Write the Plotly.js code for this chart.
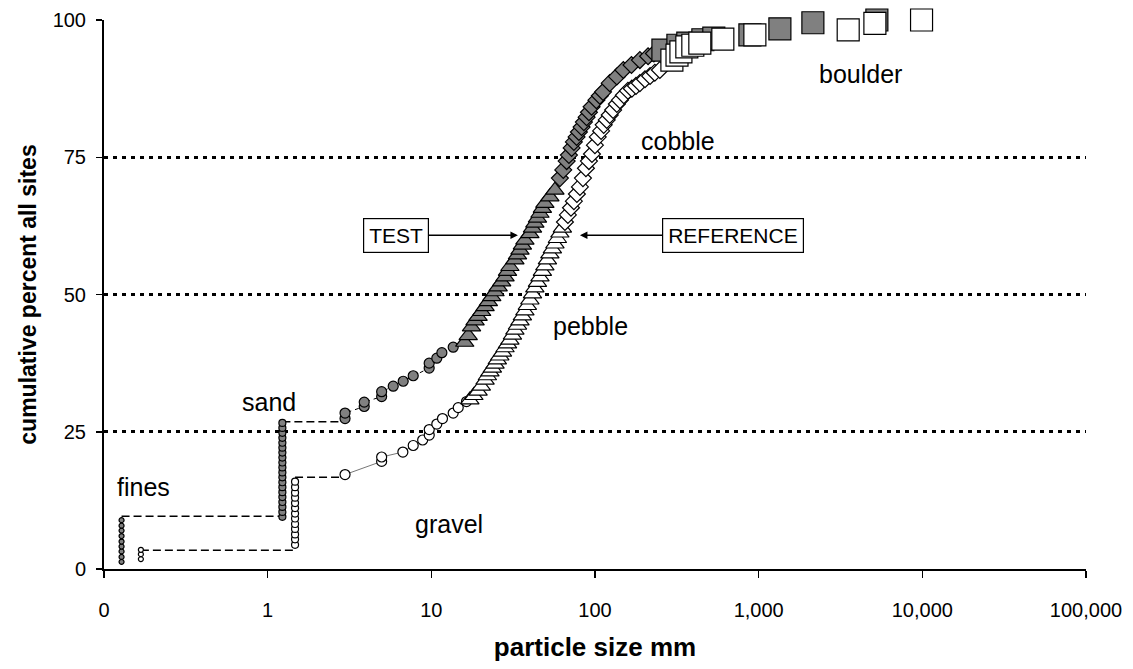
<!DOCTYPE html>
<html>
<head>
<meta charset="utf-8">
<script src="https://cdn.plot.ly/plotly-3.0.1.min.js"></script>
<style>html,body{margin:0;padding:0;background:#fff;}#chart{width:1133px;height:669px;}</style>
</head>
<body>
<div id="chart"></div>
<script>
// ---------- data (particle size mm, cumulative percent) ----------
const testFinesSize = 0.128;
const testFinesPct = [1.3, 2.2, 3.2, 4.1, 5.0, 6.0, 7.0, 7.9, 8.9];
const refFinesSize = 0.168;
const refFinesPct = [1.8, 2.7, 3.5];

const testSandSize = 1.23;
const testSandPct = [9.5, 10.4, 11.3, 12.2, 13.1, 14.0, 14.9, 15.8, 16.7, 17.6, 18.5, 19.4, 20.3, 21.2, 22.1, 23.0, 23.9, 24.8, 25.7, 26.6];
const refSandSize = 1.47;
const refSandPct = [4.4, 5.4, 6.3, 7.3, 8.2, 9.2, 10.1, 11.1, 12.0, 13.0, 13.9, 14.9, 15.9];

const testGravelSize = [2.97, 2.97, 3.89, 3.89, 4.97, 4.97, 5.85, 6.73, 7.75, 9.70, 9.70, 10.8, 11.6, 13.6];
const testGravelPct  = [27.4, 28.4, 29.6, 30.4, 31.4, 32.3, 33.3, 34.2, 35.2, 36.6, 37.5, 38.4, 39.4, 40.4];
const refGravelSize = [2.97, 4.97, 4.97, 6.70, 7.75, 8.85, 9.71, 9.71, 10.8, 11.7, 13.6, 14.6, 16.4];
const refGravelPct  = [17.2, 19.6, 20.4, 21.3, 22.5, 23.5, 24.4, 25.4, 26.4, 27.4, 28.4, 29.4, 30.5];

const testPebbleSize = [16.0, 16.8, 17.6, 18.5, 19.3, 20.3, 21.3, 22.3, 23.4, 24.5, 25.6, 26.9, 28.2, 29.2, 30.2, 32.4, 33.6, 34.8, 36.0, 37.3, 40.0, 41.5, 42.9, 44.5, 46.1, 47.7, 49.4, 53.0, 56.9];
const testPebblePct  = [41.3, 42.5, 44.1, 45.2, 46.0, 46.9, 47.8, 48.7, 49.6, 50.5, 51.4, 52.3, 53.2, 54.2, 55.1, 56.3, 57.2, 58.1, 59.0, 59.9, 61.1, 62.1, 63.0, 63.9, 64.8, 65.7, 66.6, 67.8, 69.0];
const refPebbleSize = [17.2, 18.2, 19.3, 20.2, 21.3, 22.0, 22.8, 23.6, 24.5, 25.3, 26.2, 27.2, 28.2, 29.2, 30.2, 31.3, 32.4, 33.6, 34.8, 36.0, 37.3, 38.6, 40.0, 41.5, 42.9, 44.5, 46.1, 47.7, 49.4, 51.2, 53.0, 54.9, 56.9, 58.9, 61.0, 63.2];
const refPebblePct  = [30.8, 31.6, 32.4, 33.3, 34.4, 35.2, 35.9, 36.6, 37.3, 38.1, 38.8, 39.5, 40.3, 41.0, 41.7, 42.6, 43.5, 44.4, 45.2, 46.1, 47.0, 48.0, 49.0, 50.1, 51.2, 52.2, 53.2, 54.2, 55.2, 56.3, 57.4, 58.3, 59.2, 60.2, 61.2, 62.1];

const testCobbleSize = [61.0, 64.0, 67.1, 69.3, 72.0, 74.3, 77.2, 79.7, 82.8, 85.5, 88.9, 91.8, 95.3, 102, 107, 112, 123, 136, 149, 167, 188, 211, 229];
const testCobblePct  = [71.2, 72.7, 74.3, 75.4, 76.7, 77.8, 78.7, 79.6, 80.5, 81.4, 82.3, 83.2, 84.2, 85.4, 86.2, 86.9, 88.5, 89.7, 90.9, 91.8, 92.7, 93.4, 93.9];
const refCobbleSize = [65.5, 68.3, 71.3, 74.3, 77.5, 80.9, 84.4, 88.0, 91.8, 95.8, 99.9, 104, 109, 113, 118, 123, 129, 136, 142, 150, 159, 168, 178, 188, 202, 217, 232, 249];
const refCobblePct  = [63.2, 64.5, 65.8, 67.0, 68.3, 69.6, 71.2, 73.0, 74.3, 75.6, 77.2, 78.7, 79.8, 80.9, 81.8, 82.7, 83.6, 84.7, 85.4, 86.3, 87.1, 87.5, 88.0, 88.5, 89.2, 89.8, 90.4, 90.9];

const testBoulderSize = [260, 321, 369, 456, 532, 884, 1348, 2144, 5275];
const testBoulderPct  = [94.5, 95.4, 95.8, 96.4, 96.7, 97.3, 98.4, 99.5, 100];
const refBoulderSize = [295, 317, 335, 364, 396, 437, 604, 948, 3524, 5130, 9890];
const refBoulderPct  = [92.7, 93.6, 94.2, 95.1, 95.4, 95.8, 96.5, 97.3, 98.2, 99.4, 100];

// dashed links between class columns
const testLinkPct = [9.6, 26.8];
const refLinkPct = [3.4, 16.7];

const xTickVals = [0.1, 1, 10, 100, 1000, 10000, 100000];
const xTickText = ['0', '1', '10', '100', '1,000', '10,000', '100,000'];
const yTickVals = [0, 25, 50, 75, 100];

const classLabels = ['fines', 'sand', 'gravel', 'pebble', 'cobble', 'boulder'];
const seriesNames = ['TEST', 'REFERENCE'];

// ---------- traces ----------
const GRAY = '#808080';
function rep(v, n) { return Array(n).fill(v); }
function mk(x, y, symbol, size, fill, extra) {
  return Object.assign({
    type: 'scatter', mode: 'markers', x: x, y: y, cliponaxis: false, hoverinfo: 'x+y',
    marker: { symbol: symbol, size: size, color: fill, line: { color: '#000', width: 1.2 } }
  }, extra || {});
}
const dashLine = { color: '#000', width: 1.5, dash: '8px,4px' };

const traces = [
  // links
  { type: 'scatter', mode: 'lines', x: [testFinesSize, testSandSize], y: [testLinkPct[0], testLinkPct[0]], line: dashLine, hoverinfo: 'skip' },
  { type: 'scatter', mode: 'lines', x: [testSandSize, testGravelSize[0]], y: [testLinkPct[1], testLinkPct[1]], line: dashLine, hoverinfo: 'skip' },
  { type: 'scatter', mode: 'lines', x: [refFinesSize, refSandSize], y: [refLinkPct[0], refLinkPct[0]], line: dashLine, hoverinfo: 'skip' },
  { type: 'scatter', mode: 'lines', x: [refSandSize, refGravelSize[0]], y: [refLinkPct[1], refLinkPct[1]], line: dashLine, hoverinfo: 'skip' },
  // TEST series (gray)
  mk(rep(testFinesSize, testFinesPct.length), testFinesPct, 'circle', 5, GRAY),
  mk(rep(testSandSize, testSandPct.length), testSandPct, 'circle', 7, GRAY),
  mk(testGravelSize, testGravelPct, 'circle', 10, GRAY, { mode: 'lines+markers', line: { color: '#000', width: 1, dash: '4px,4px' } }),
  mk(testPebbleSize, testPebblePct, 'triangle-up', 16, GRAY),
  mk(testCobbleSize, testCobblePct, 'diamond', 13, GRAY),
  mk(testBoulderSize, testBoulderPct, 'square', 22, GRAY),
  // REFERENCE series (open)
  mk(rep(refFinesSize, refFinesPct.length), refFinesPct, 'circle', 5, '#fff'),
  mk(rep(refSandSize, refSandPct.length), refSandPct, 'circle', 7, '#fff'),
  mk(refGravelSize, refGravelPct, 'circle', 10, '#fff', { mode: 'lines+markers', line: { color: '#777', width: 1 } }),
  mk(refPebbleSize, refPebblePct, 'triangle-up', 16, '#fff', { mode: 'lines+markers', line: { color: '#000', width: 1 } }),
  mk(refCobbleSize, refCobblePct, 'diamond', 13, '#fff', { mode: 'lines+markers', line: { color: '#000', width: 1 } }),
  mk(refBoulderSize, refBoulderPct, 'square', 22, '#fff')
];

// ---------- annotations ----------
const labelPos = [[-0.756, 14.9], [0.008, 30.4], [1.108, 8.2], [1.975, 44.3], [2.506, 78.0], [3.624, 90.2]];
const annotations = classLabels.map((t, i) => ({
  text: t, x: labelPos[i][0], y: labelPos[i][1], xref: 'x', yref: 'y', showarrow: false,
  font: { size: 25, color: '#000' }
}));
annotations.push({
  text: seriesNames[0], x: 1.529, y: 60.8, ax: 0.784, ay: 60.8, axref: 'x', ayref: 'y', xref: 'x', yref: 'y',
  showarrow: true, arrowhead: 2, arrowsize: 1, arrowwidth: 1.5, arrowcolor: '#000', standoff: 0,
  bordercolor: '#000', borderwidth: 1.2, borderpad: 5, bgcolor: '#fff', font: { size: 21, color: '#000' }
});
annotations.push({
  text: seriesNames[1], x: 1.908, y: 60.8, ax: 2.842, ay: 60.8, axref: 'x', ayref: 'y', xref: 'x', yref: 'y',
  showarrow: true, arrowhead: 2, arrowsize: 1, arrowwidth: 1.5, arrowcolor: '#000', standoff: 0,
  bordercolor: '#000', borderwidth: 1.2, borderpad: 5, bgcolor: '#fff', font: { size: 21, color: '#000' }
});

const layout = {
  width: 1133, height: 669,
  margin: { l: 104, r: 47, t: 20, b: 100 },
  paper_bgcolor: '#fff', plot_bgcolor: '#fff',
  showlegend: false,
  font: { family: '"Liberation Sans", Arial, sans-serif', color: '#000' },
  xaxis: {
    type: 'log', range: [-1, 5], tickvals: xTickVals, ticktext: xTickText,
    ticks: 'outside', ticklen: 7, tickwidth: 1.5, tickcolor: '#000',
    showline: true, linecolor: '#000', linewidth: 2, showgrid: false, zeroline: false,
    tickfont: { size: 20 }, ticklabelstandoff: 15, automargin: false,
    title: { text: '<b>particle size mm</b>', font: { size: 26 }, standoff: 18 }
  },
  yaxis: {
    range: [0, 100], tickvals: yTickVals, ticks: 'outside', ticklen: 6, tickwidth: 1.5, tickcolor: '#000',
    showline: true, linecolor: '#000', linewidth: 2, showgrid: true, gridcolor: '#000', gridwidth: 3,
    griddash: '4px,5px', zeroline: false, tickfont: { size: 20 }, ticklabelstandoff: 6, automargin: false,
    title: { text: '<b>cumulative percent all sites</b>', font: { size: 23 }, standoff: 10 }
  },
  annotations: annotations
};

Plotly.newPlot('chart', traces, layout, { staticPlot: true, displayModeBar: false });
</script>
</body>
</html>
